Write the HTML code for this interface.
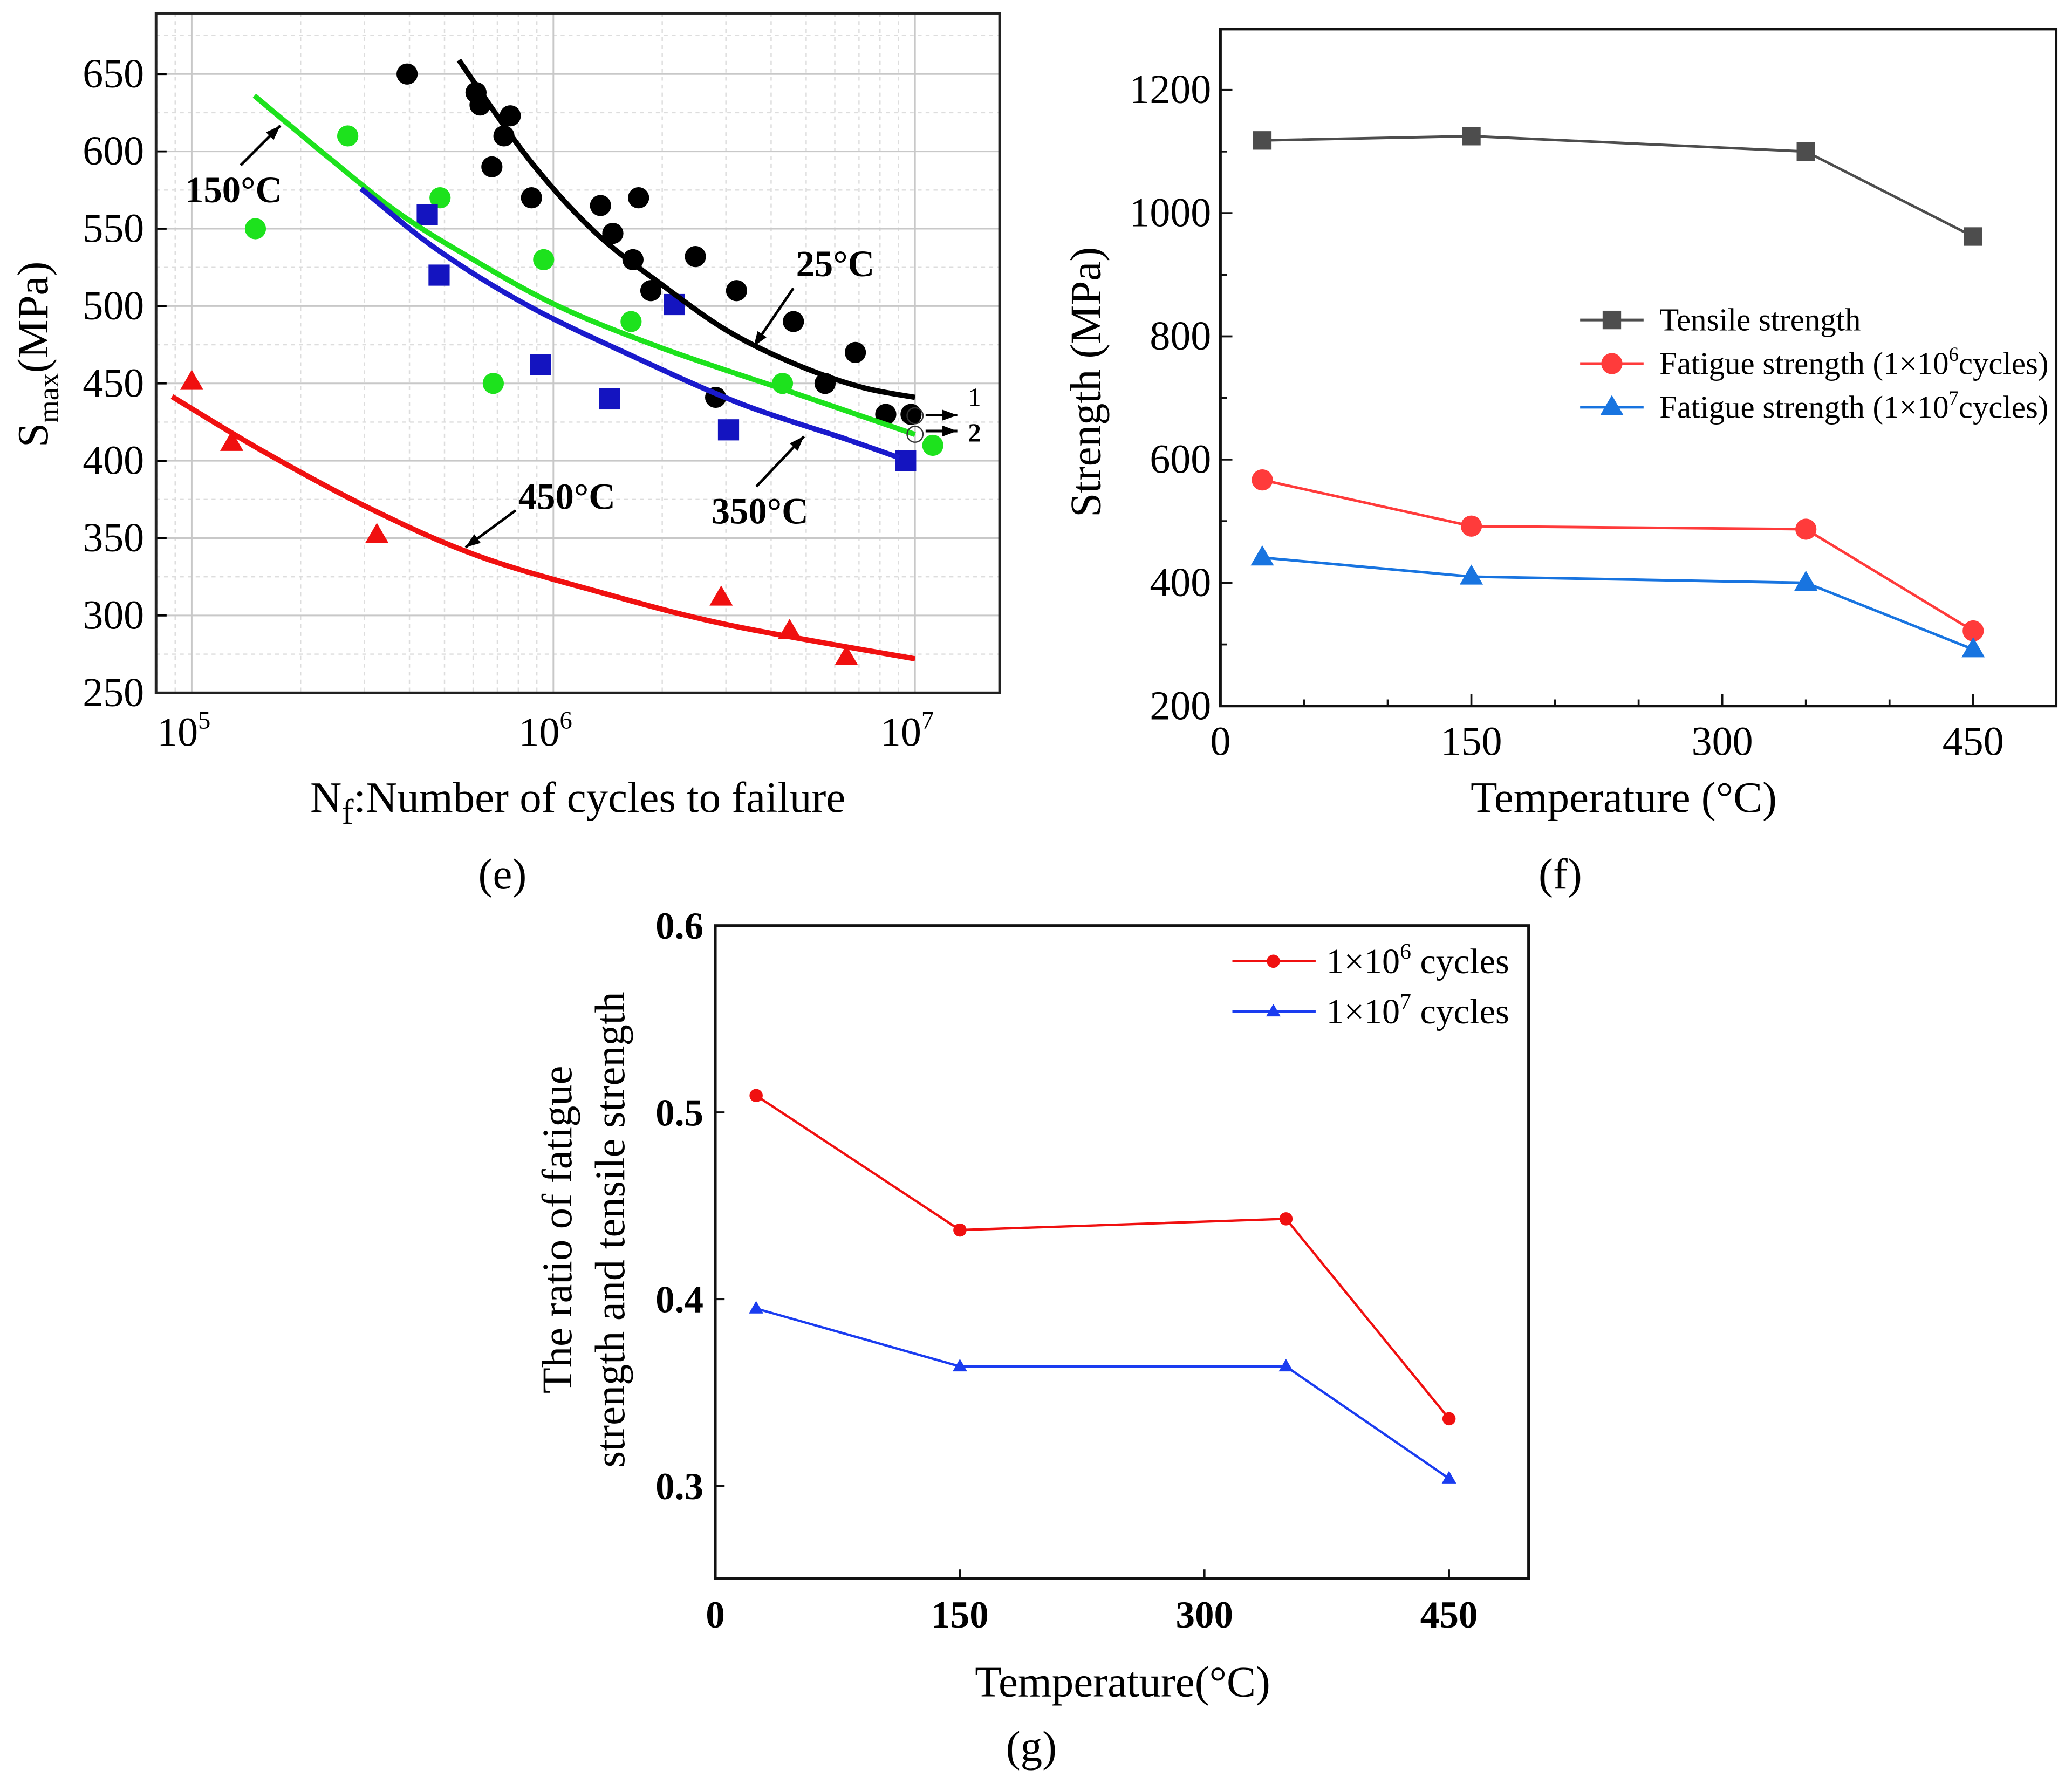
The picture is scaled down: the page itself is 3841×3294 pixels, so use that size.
<!DOCTYPE html>
<html><head><meta charset="utf-8"><style>
html,body{margin:0;padding:0;background:#fff;}
svg{display:block;font-family:"Liberation Serif",serif;}
</style></head><body>
<svg id="fig" xmlns="http://www.w3.org/2000/svg" width="3841" height="3294" viewBox="0 0 1567 1344" preserveAspectRatio="none">
<rect x="0" y="0" width="1567" height="1344" fill="#fff"/>
<g id="e"></g>
<g id="f"></g>
<g id="g"></g>
</svg>
<script>
// ---------- chart (e) data ----------
const blackN=[3.94e5,6.11e5,6.27e5,6.76e5,7.3e5,7.6e5,8.7e5,1.35e6,1.46e6,1.66e6,1.72e6,1.86e6,2.47e6,3.21e6,2.81e6,4.61e6,5.64e6,6.84e6,8.3e6,9.75e6];
const blackS=[650,638,630,590,610,623,570,565,547,530,570,510,532,510,441,490,450,470,430,430];
const greenN=[1.5e5,2.7e5,4.86e5,6.82e5,9.4e5,1.64e6,4.3e6,1.12e7];
const greenS=[550,610,570,450,530,490,450,410];
const blueN=[4.48e5,4.83e5,9.22e5,1.43e6,2.16e6,3.05e6,9.42e6];
const blueS=[559,520,462,440,501,420,400];
const redN=[1e5,1.29e5,3.25e5,2.91e6,4.5e6,6.46e6];
const redS=[451,411.5,352,311.5,290,273];
const fitBlackN=[5.48e5,8.55e5,1.3e6,1.99e6,3.03e6,4.61e6,7.0e6,1e7];
const fitBlackS=[659,595,548,514,484,463,448,441];
const fitGreenN=[1.49e5,2.42e5,3.69e5,5.62e5,1.01e6,1.99e6,4.61e6,1e7];
const fitGreenS=[636,595,561,534,501,473,444,417];
const fitBlueN=[2.94e5,4.74e5,8.55e5,1.68e6,3.29e6,6.45e6,9.04e6];
const fitBlueS=[576,537,500,467,437,414,402];
const fitRedN=[8.82e4,1.59e5,3.12e5,6.11e5,1.3e6,3.03e6,1e7];
const fitRedS=[441.5,405.6,369,339,316,294,272];
const eYTicks=[250,300,350,400,450,500,550,600,650];
// ---------- chart (f) data ----------
const temps=[25,150,350,450];
const tensile=[1118,1125,1100,962];
const fat6=[567,492,487,322];
const fat7=[441,410,400,292];
const fXTicks=[0,150,300,450];
const fYTicks=[200,400,600,800,1000,1200];
// ---------- chart (g) data ----------
const ratio6=[0.509,0.437,0.443,0.336];
const ratio7=[0.395,0.364,0.364,0.304];
const gXTicks=[0,150,300,450];
const gYTicks=[0.3,0.4,0.5,0.6];

const NS="http://www.w3.org/2000/svg";
function mk(parent,tag,attrs,txt){const el=document.createElementNS(NS,tag);for(const k in attrs)el.setAttribute(k,attrs[k]);if(txt!==undefined)el.textContent=txt;parent.appendChild(el);return el;}
function smooth(pts){let d="M"+pts[0][0]+","+pts[0][1];for(let i=0;i<pts.length-1;i++){const p0=pts[Math.max(0,i-1)],p1=pts[i],p2=pts[i+1],p3=pts[Math.min(pts.length-1,i+2)];const c1=[p1[0]+(p2[0]-p0[0])/6,p1[1]+(p2[1]-p0[1])/6],c2=[p2[0]-(p3[0]-p1[0])/6,p2[1]-(p3[1]-p1[1])/6];d+=" C"+c1[0]+","+c1[1]+" "+c2[0]+","+c2[1]+" "+p2[0]+","+p2[1];}return d;}
function marker(g,type,x,y,r,fill){let el;
 if(type==="c")el=mk(g,"circle",{cx:x,cy:y,r:r,fill:fill});
 else if(type==="s")el=mk(g,"rect",{x:x-r,y:y-r,width:2*r,height:2*r,fill:fill});
 else el=mk(g,"polygon",{points:(x)+","+(y-r*1.15)+" "+(x-r*1.1)+","+(y+r*0.75)+" "+(x+r*1.1)+","+(y+r*0.75),fill:fill});
 return el;}

// ================= (e) =================
(function(){
const g=document.getElementById("e");
const L=118,R=756,T=10,B=524;
const X=n=>145+273.5*(Math.log10(n)-5);
const Y=s=>56+(650-s)*1.17;
for(let s=250;s<=675;s+=25){if(s%50===0)continue;const l=mk(g,"line",{x1:L,x2:R,y1:Y(s),y2:Y(s),stroke:"#ddd","stroke-width":1,"stroke-dasharray":"3,3"});}
for(let e=4;e<=7;e++)for(let m=2;m<=9;m++){const x=X(m*Math.pow(10,e));if(x<L||x>R)continue;const l=mk(g,"line",{x1:x,x2:x,y1:T,y2:B,stroke:"#ddd","stroke-width":1,"stroke-dasharray":"3,3"});}
eYTicks.forEach(s=>{const l=mk(g,"line",{x1:L,x2:R,y1:Y(s),y2:Y(s),stroke:"#c8c8c8","stroke-width":1.2});
 const t=mk(g,"text",{x:L-9,y:Y(s)+10,"text-anchor":"end","font-size":31},String(s));
 mk(g,"line",{x1:L,x2:L+8,y1:Y(s),y2:Y(s),stroke:"#000","stroke-width":1.5});});
[1e5,1e6,1e7].forEach((n,i)=>{const x=X(n);mk(g,"line",{x1:x,x2:x,y1:T,y2:B,stroke:"#c8c8c8","stroke-width":1.2});
 const t=mk(g,"text",{x:x-6,y:B+40,"text-anchor":"middle","font-size":31});
 t.innerHTML='10<tspan dy="-13" font-size="19">'+(5+i)+'</tspan>';});
const fr=mk(g,"rect",{x:L,y:T,width:R-L,height:B-T,fill:"none",stroke:"#222","stroke-width":2});
const fits=[[fitBlackN,fitBlackS,"#000","fit-25c"],[fitGreenN,fitGreenS,"#1de21d","fit-150c"],[fitBlueN,fitBlueS,"#1a1acc","fit-350c"],[fitRedN,fitRedS,"#f01010","fit-450c"]];
const pts=[[blackN,blackS,"#000","c","points-25c"],[greenN,greenS,"#1de21d","c","points-150c"],[blueN,blueS,"#1414c0","s","points-350c"],[redN,redS,"#f01010","t","points-450c"]];
pts.forEach(p=>{p[0].forEach((n,i)=>{const m=marker(g,p[3],X(n),Y(p[1][i]),8,p[2]);});});
fits.forEach(f=>{const d=smooth(f[0].map((n,i)=>[X(n),Y(f[1][i])]));const p=mk(g,"path",{d:d,fill:"none",stroke:f[2],"stroke-width":4});});
mk(g,"circle",{cx:X(1e7),cy:Y(430)+1,r:6,fill:"none",stroke:"#333","stroke-width":1});
mk(g,"circle",{cx:X(1e7),cy:Y(418)+1,r:6,fill:"none",stroke:"#333","stroke-width":1});
function arrow(x1,y1,x2,y2,name){const a=mk(g,"line",{x1:x1,y1:y1,x2:x2,y2:y2,stroke:"#000","stroke-width":2});
 const ang=Math.atan2(y2-y1,x2-x1),h=12;mk(g,"polygon",{points:x2+","+y2+" "+(x2-h*Math.cos(ang-0.35))+","+(y2-h*Math.sin(ang-0.35))+" "+(x2-h*Math.cos(ang+0.35))+","+(y2-h*Math.sin(ang+0.35)),fill:"#000"});}
arrow(700,314,724,314,"arrow-1");arrow(700,326,724,326,"arrow-2");
arrow(182,125,212,95,"arrow-150c");arrow(600,218,570,262,"arrow-25c");arrow(572,368,608,330,"arrow-350c");arrow(390,386,352,414,"arrow-450c");
[["1",732,307,20,"normal"],["2",732,334,20,"bold"],["150°C",140,153,28,"bold"],["25°C",602,209,28,"bold"],["350°C",538,396,28,"bold"],["450°C",392,385,28,"bold"]].forEach(a=>{const t=mk(g,"text",{x:a[1],y:a[2],"font-size":a[3],"font-weight":a[4]},a[0]);});
const yt=mk(g,"text",{transform:"translate(36,268) rotate(-90)","text-anchor":"middle","font-size":33});
yt.innerHTML='S<tspan dy="8" font-size="22">max</tspan><tspan dy="-8">(MPa)</tspan>';
const xt=mk(g,"text",{x:437,y:614,"text-anchor":"middle","font-size":33});
xt.innerHTML='N<tspan dy="9" font-size="27">f</tspan><tspan dy="-9">:Number of cycles to failure</tspan>';
const cap=mk(g,"text",{x:380,y:672,"text-anchor":"middle","font-size":33},"(e)");
})();

// ================= (f) =================
(function(){
const g=document.getElementById("f");
const L=923,R=1555,T=22,B=534;
const X=t=>923+t*1.265;
const Y=v=>534-(v-200)*0.466;
const fr=mk(g,"rect",{x:L,y:T,width:R-L,height:B-T,fill:"none",stroke:"#111","stroke-width":2});
for(let t=50;t<500;t+=50)mk(g,"line",{x1:X(t),x2:X(t),y1:B,y2:B-(t%150===0?9:5),stroke:"#111","stroke-width":1.5});
for(let v=300;v<1300;v+=100)mk(g,"line",{x1:L,x2:L+(v%200===0?9:5),y1:Y(v),y2:Y(v),stroke:"#111","stroke-width":1.5});
fXTicks.forEach(t=>{const l=mk(g,"text",{x:X(t),y:B+37,"text-anchor":"middle","font-size":31},String(t));});
fYTicks.forEach(v=>{const l=mk(g,"text",{x:L-7,y:Y(v)+10,"text-anchor":"end","font-size":31},String(v));});
const ser=[[tensile,"#4d4d4d","s","series-tensile"],[fat6,"#ff3b3b","c","series-fatigue-1e6"],[fat7,"#1874e0","t","series-fatigue-1e7"]];
ser.forEach(s=>{const p=mk(g,"polyline",{points:temps.map((t,i)=>X(t)+","+Y(s[0][i])).join(" "),fill:"none",stroke:s[1],"stroke-width":2});
 temps.forEach((t,i)=>{const m=marker(g,s[2],X(t),Y(s[0][i]),s[2]==="s"?7:8,s[1]);});});
const leg=[["Tensile strength",null],["Fatigue strength (1×10","6"],["Fatigue strength (1×10","7"]];
leg.forEach((l,i)=>{const y=242+i*33;const s=ser[i];mk(g,"line",{x1:1195,x2:1243,y1:y,y2:y,stroke:s[1],"stroke-width":2});marker(g,s[2],1219,y,s[2]==="s"?7:8,s[1]);
 const t=mk(g,"text",{x:1255,y:y+8,"font-size":24});
 t.innerHTML=l[1]?l[0]+'<tspan dy="-10" font-size="15">'+l[1]+'</tspan><tspan dy="10">cycles)</tspan>':l[0];});
const yt=mk(g,"text",{transform:"translate(832,289) rotate(-90)","text-anchor":"middle","font-size":33},"Strength (MPa)");
const xt=mk(g,"text",{x:1228,y:614,"text-anchor":"middle","font-size":33},"Temperature (°C)");
const cap=mk(g,"text",{x:1180,y:672,"text-anchor":"middle","font-size":33},"(f)");
})();

// ================= (g) =================
(function(){
const g=document.getElementById("g");
const L=541,R=1156,T=700,B=1194;
const X=t=>541+t*1.233;
const Y=v=>700+(0.6-v)*1413;
const fr=mk(g,"rect",{x:L,y:T,width:R-L,height:B-T,fill:"none",stroke:"#111","stroke-width":2});
gXTicks.forEach(t=>{mk(g,"line",{x1:X(t),x2:X(t),y1:B,y2:B-7,stroke:"#111","stroke-width":1.5});
 const l=mk(g,"text",{x:X(t),y:B+37,"text-anchor":"middle","font-size":29,"font-weight":"bold"},String(t));});
gYTicks.forEach(v=>{mk(g,"line",{x1:L,x2:L+7,y1:Y(v),y2:Y(v),stroke:"#111","stroke-width":1.5});
 const l=mk(g,"text",{x:L-9,y:Y(v)+10,"text-anchor":"end","font-size":29,"font-weight":"bold"},v.toFixed(1));});
const ser=[[ratio6,"#f01010","c","series-ratio-1e6"],[ratio7,"#1a3cf0","t","series-ratio-1e7"]];
ser.forEach(s=>{const p=mk(g,"polyline",{points:temps.map((t,i)=>X(t)+","+Y(s[0][i])).join(" "),fill:"none",stroke:s[1],"stroke-width":1.8});
 temps.forEach((t,i)=>{const m=marker(g,s[2],X(t),Y(s[0][i]),5,s[1]);});});
["6","7"].forEach((e,i)=>{const y=727+i*38;const s=ser[i];mk(g,"line",{x1:932,x2:995,y1:y,y2:y,stroke:s[1],"stroke-width":1.8});marker(g,s[2],963,y,5,s[1]);
 const t=mk(g,"text",{x:1003,y:y+9,"font-size":27});
 t.innerHTML='1×10<tspan dy="-11" font-size="17">'+e+'</tspan><tspan dy="11"> cycles</tspan>';});
const y1=mk(g,"text",{transform:"translate(432,930) rotate(-90)","text-anchor":"middle","font-size":32},"The ratio of fatigue");
const y2=mk(g,"text",{transform:"translate(472,930) rotate(-90)","text-anchor":"middle","font-size":32},"strength and tensile strength");
const xt=mk(g,"text",{x:849,y:1283,"text-anchor":"middle","font-size":33},"Temperature(°C)");
const cap=mk(g,"text",{x:780,y:1332,"text-anchor":"middle","font-size":33},"(g)");
})();
</script>
</body></html>
